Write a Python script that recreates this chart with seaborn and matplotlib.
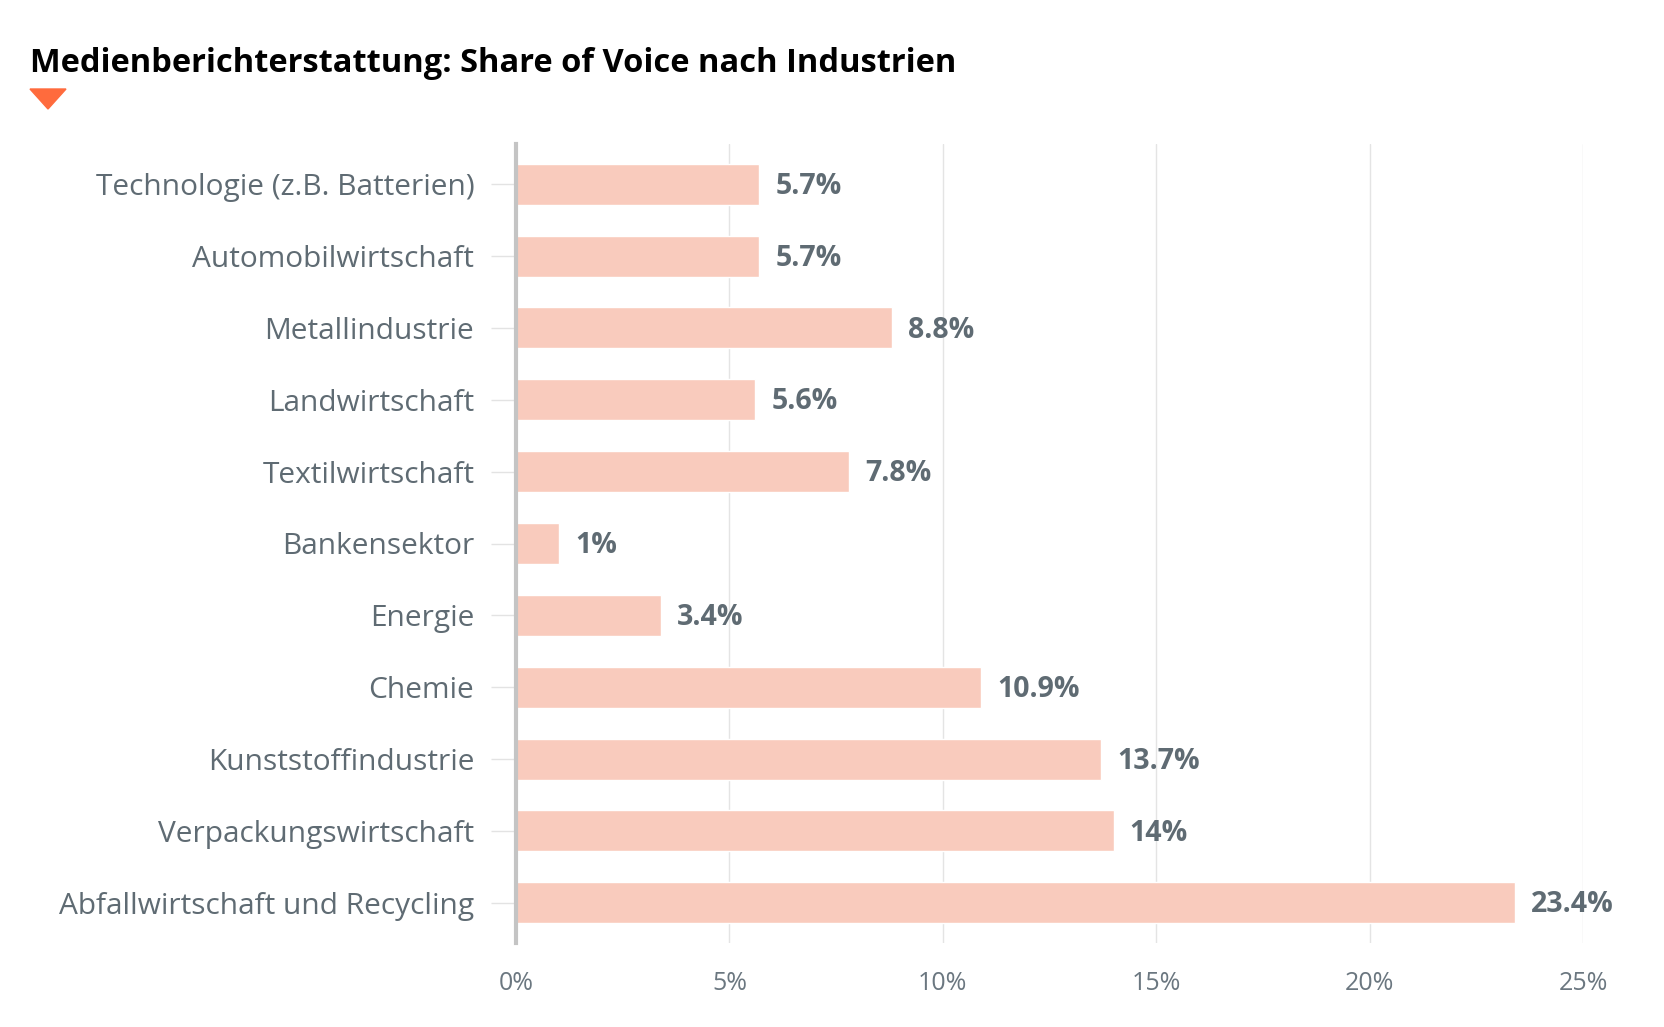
import matplotlib
matplotlib.use("Agg")
import matplotlib.pyplot as plt
import seaborn as sns
import pandas as pd
from matplotlib.patches import Polygon

categories = [
    "Technologie (z.B. Batterien)",
    "Automobilwirtschaft",
    "Metallindustrie",
    "Landwirtschaft",
    "Textilwirtschaft",
    "Bankensektor",
    "Energie",
    "Chemie",
    "Kunststoffindustrie",
    "Verpackungswirtschaft",
    "Abfallwirtschaft und Recycling",
]
values = [5.7, 5.7, 8.8, 5.6, 7.8, 1, 3.4, 10.9, 13.7, 14, 23.4]
value_labels = ["5.7%", "5.7%", "8.8%", "5.6%", "7.8%", "1%", "3.4%", "10.9%", "13.7%", "14%", "23.4%"]
xticks = [0, 5, 10, 15, 20, 25]
xtick_labels = ["0%", "5%", "10%", "15%", "20%", "25%"]
title = "Medienberichterstattung: Share of Voice nach Industrien"

sns.set_theme(style="white")
plt.rcParams["font.family"] = ["Open Sans", "DejaVu Sans"]

W, H = 1665, 1027
fig = plt.figure(figsize=(W / 100, H / 100), dpi=100)
ax = fig.add_axes([516 / W, 1 - 943 / H, (1583 - 516) / W, (943 - 144) / H])

df = pd.DataFrame({"cat": categories, "val": values})
sns.barplot(data=df, y="cat", x="val", orient="h", color="#f9cbbd", saturation=1,
            width=0.57, ax=ax, zorder=2)

ax.set_xlim(0, 25)
ax.set_ylim(len(categories) - 1 + 0.56, -0.56)
ax.set_xticks(xticks)
ax.set_xticklabels(xtick_labels, color="#6b7780", fontsize=18)
ax.set_xlabel("")
ax.set_ylabel("")
ax.tick_params(axis="x", length=0, pad=20)
ax.tick_params(axis="y", length=18, color="#e3e3e3", width=1, pad=12, labelsize=21.5, labelcolor="#5f6b73", left=True)
for v in xticks[1:]:
    ax.axvline(v, color="#e4e4e4", lw=1, zorder=0)
for s in ["top", "right", "bottom"]:
    ax.spines[s].set_visible(False)
ax.spines["left"].set_color("#c4c4c4")
ax.spines["left"].set_linewidth(3)
ax.spines["left"].set_zorder(3)

for i, (v, lab) in enumerate(zip(values, value_labels)):
    ax.text(v + 0.38, i + 0.03, lab, va="center", ha="left", fontsize=20.5,
            fontweight="bold", color="#5f6b73")

fig.text(30 / W, 1 - 64 / H, title, fontsize=23.5, fontweight="bold", color="black",
         va="center", ha="left")
tri = Polygon([[30 / W, 1 - 89 / H], [66 / W, 1 - 89 / H], [48 / W, 1 - 109 / H]],
              closed=True, transform=fig.transFigure, color="#ff6b3d")
fig.patches.append(tri)

fig.savefig("out.png", dpi=100, facecolor="white")
